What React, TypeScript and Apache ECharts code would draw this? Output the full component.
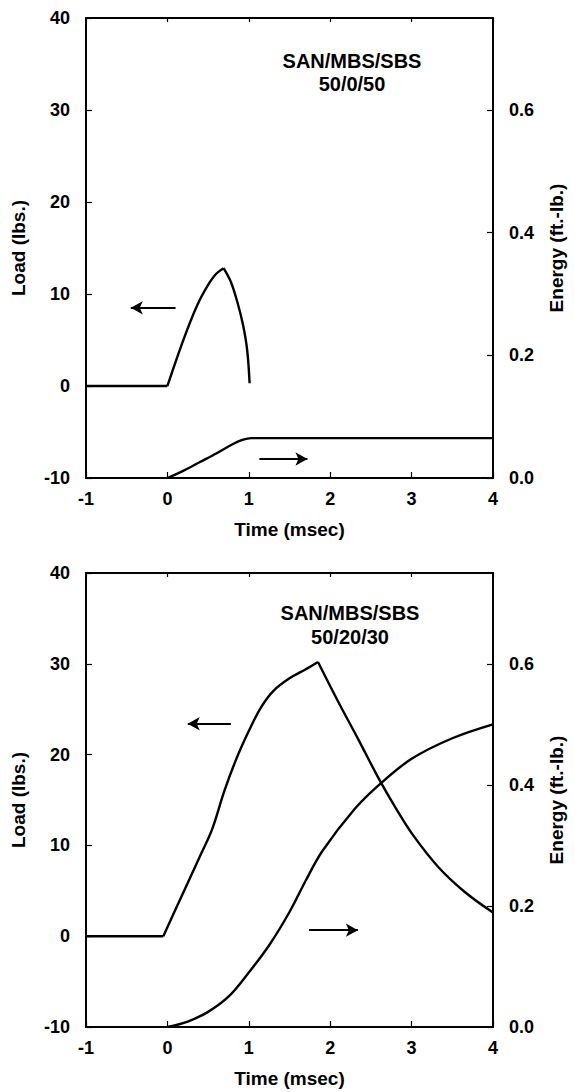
import React, { useEffect, useRef } from "react";
import * as echarts from "echarts";

// ---- Top panel: SAN/MBS/SBS 50/0/50 ----
const topTitle = ["SAN/MBS/SBS", "50/0/50"];
const topLoadFlatT = [-1, 0];
const topLoadFlatV = [0, 0];
const topLoadRiseT = [0, 0.1, 0.2, 0.3, 0.4, 0.5, 0.6, 0.69];
const topLoadRiseV = [0, 2.6, 5.1, 7.4, 9.4, 11.0, 12.2, 12.8];
const topLoadFallT = [0.69, 0.78, 0.86, 0.93, 0.98, 1.01];
const topLoadFallV = [12.8, 11.3, 9.1, 6.6, 3.9, 0.3];
const topEnergyT = [0, 0.2, 0.4, 0.6, 0.8, 0.92, 1.03, 1.3, 4];
const topEnergyV = [0, 0.012, 0.026, 0.040, 0.055, 0.062, 0.065, 0.065, 0.065];

// ---- Bottom panel: SAN/MBS/SBS 50/20/30 ----
const botTitle = ["SAN/MBS/SBS", "50/20/30"];
const botLoadFlatT = [-1, -0.05];
const botLoadFlatV = [0, 0];
const botLoadRiseT = [-0.05, 0.2, 0.4, 0.55, 0.7, 0.85, 1.0, 1.15, 1.3, 1.5, 1.7, 1.85];
const botLoadRiseV = [0, 4.9, 8.8, 11.8, 16.0, 19.6, 22.6, 25.2, 27.0, 28.4, 29.4, 30.2];
const botLoadFallT = [1.85, 2.1, 2.35, 2.6, 2.8, 3.02, 3.33, 3.65, 4.0];
const botLoadFallV = [30.2, 25.8, 21.6, 17.3, 14.2, 11.1, 7.6, 4.9, 2.6];
const botEnergyT = [0, 0.25, 0.5, 0.75, 1.0, 1.25, 1.5, 1.7, 1.9, 2.3, 2.6, 3.0, 3.5, 4.0];
const botEnergyV = [0, 0.009, 0.025, 0.05, 0.09, 0.135, 0.19, 0.242, 0.29, 0.36, 0.4, 0.443, 0.477, 0.5];

// arrows: [t0, t1, value]
const topLoadArrow = [0.1, -0.45, 8.5];
const topEnergyArrow = [1.13, 1.72, 0.031];
const botLoadArrow = [0.78, 0.25, 23.4];
const botEnergyArrow = [1.74, 2.34, 0.16];

// axes
const timeMin = -1, timeMax = 4, timeStep = 1;
const loadMin = -10, loadMax = 40, loadStep = 10;
const energyMin = 0, energyMax = 0.75, energyStep = 0.2;

const FONT = "Liberation Sans";
const zip = (t: number[], v: number[]) => t.map((x, i) => [x, v[i]]);

export default function App() {
  const ref = useRef<HTMLDivElement>(null);
  useEffect(() => {
    document.body.style.margin = "0";
    const chart = echarts.init(ref.current!, null, { renderer: "svg" });
    const grids = [
      { left: 86, right: 79, top: 18, height: 460 },
      { left: 86, right: 79, top: 573, height: 454 },
    ];
    const lbl = { color: "#000", fontFamily: FONT, fontWeight: "bold" as const };
    const axLine = { show: true, lineStyle: { color: "#000", width: 2 } };
    const tick = { show: true, inside: true, length: 6, lineStyle: { color: "#000", width: 1.2 } };
    const xAxes: any[] = [];
    const yAxes: any[] = [];
    [0, 1].forEach((g) => {
      xAxes.push({
        type: "value", gridIndex: g, min: timeMin, max: timeMax, interval: timeStep,
        name: "Time (msec)", nameLocation: "middle", nameGap: 42,
        nameTextStyle: { ...lbl, fontSize: 19 },
        axisLine: { ...axLine, onZero: false }, axisTick: tick,
        axisLabel: { ...lbl, margin: 12, fontSize: 18 }, splitLine: { show: false },
      });
      xAxes.push({
        type: "value", gridIndex: g, position: "top", min: timeMin, max: timeMax, interval: timeStep,
        axisLine: { ...axLine, onZero: false }, axisTick: { ...tick, length: 4 },
        axisLabel: { show: false }, splitLine: { show: false },
      });
      yAxes.push({
        type: "value", gridIndex: g, position: "left", min: loadMin, max: loadMax, interval: loadStep,
        name: "Load (lbs.)", nameLocation: "middle", nameGap: 58, nameRotate: 90,
        nameTextStyle: { ...lbl, fontSize: 19 },
        axisLine: { ...axLine, onZero: false }, axisTick: tick,
        axisLabel: { ...lbl, margin: 16, fontSize: 18 }, splitLine: { show: false },
      });
      yAxes.push({
        type: "value", gridIndex: g, position: "right", min: energyMin, max: energyMax, interval: energyStep,
        name: "Energy (ft.-lb.)", nameLocation: "middle", nameGap: 54, nameRotate: 90,
        nameTextStyle: { ...lbl, fontSize: 19 },
        axisLine: { ...axLine, onZero: false }, axisTick: tick,
        axisLabel: { ...lbl, margin: 16, fontSize: 18, showMaxLabel: false, formatter: (v: number) => v.toFixed(1) },
        splitLine: { show: false },
      });
    });
    const ls = { color: "#000", width: 2.4 };
    const line = (data: number[][], xi: number, yi: number, smooth: number | boolean, extra: any = {}) => ({
      type: "line", xAxisIndex: xi, yAxisIndex: yi, data, smooth, symbol: "none",
      lineStyle: ls, silent: true, ...extra,
    });
    const arrow = (a: number[]) => ({
      silent: true, symbol: ["none", "arrow"], symbolSize: [10, 12],
      lineStyle: { color: "#000", width: 2.2, type: "solid" }, label: { show: false },
      data: [[{ coord: [a[0], a[2]] }, { coord: [a[1], a[2]] }]],
    });
    const series: any[] = [
      line(zip(topLoadFlatT, topLoadFlatV), 0, 0, false),
      line(zip(topLoadRiseT, topLoadRiseV), 0, 0, 0.35, { markLine: arrow(topLoadArrow) }),
      line(zip(topLoadFallT, topLoadFallV), 0, 0, 0.35),
      line(zip(topEnergyT, topEnergyV), 0, 1, 0.35, { markLine: arrow(topEnergyArrow) }),
      line(zip(botLoadFlatT, botLoadFlatV), 2, 2, false),
      line(zip(botLoadRiseT, botLoadRiseV), 2, 2, 0.35, { markLine: arrow(botLoadArrow) }),
      line(zip(botLoadFallT, botLoadFallV), 2, 2, 0.35),
      line(zip(botEnergyT, botEnergyV), 2, 3, 0.35, { markLine: arrow(botEnergyArrow) }),
    ];
    const txt = (s: string, x: number, y: number) => ({
      type: "text", x, y, silent: true,
      style: { text: s, fill: "#000", font: `bold 20px "${FONT}"`, textAlign: "center", textVerticalAlign: "middle" },
    });
    chart.setOption({
      animation: false,
      backgroundColor: "#fff",
      grid: grids,
      xAxis: xAxes,
      yAxis: yAxes,
      series,
      graphic: [
        txt(topTitle[0], 352, 61), txt(topTitle[1], 352, 84),
        txt(botTitle[0], 350, 613), txt(botTitle[1], 350, 637),
      ],
    });
    return () => chart.dispose();
  }, []);
  return <div ref={ref} style={{ width: 574, height: 1092 }} />;
}
